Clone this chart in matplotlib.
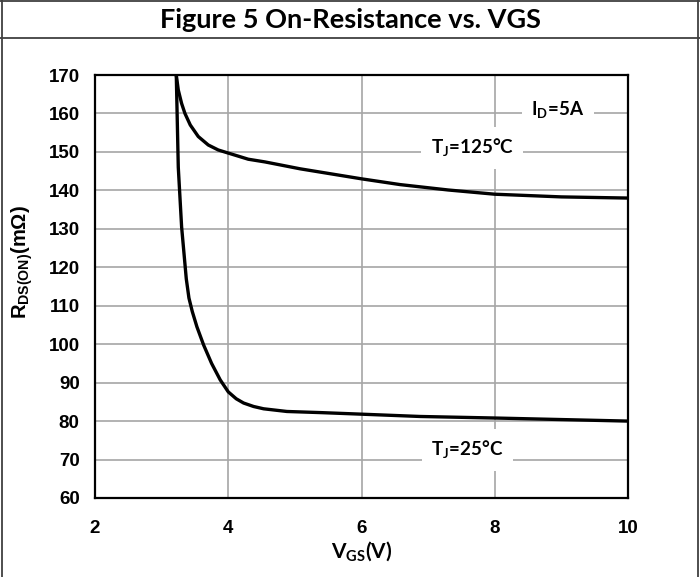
import matplotlib
matplotlib.use('Agg')
import matplotlib.pyplot as plt
from matplotlib.lines import Line2D

# data
vgs_25 = [3.22, 3.25, 3.30, 3.37, 3.41, 3.46, 3.53, 3.63, 3.75, 3.88, 4.0, 4.12, 4.23, 4.38,
          4.53, 4.88, 5.4, 6.0, 6.88, 8.0, 9.0, 10.0]
rds_25 = [170, 146, 130.5, 117, 112, 108.5, 104.5, 99.8, 95.0, 90.7, 87.6, 85.8, 84.7, 83.8,
          83.2, 82.5, 82.2, 81.8, 81.2, 80.8, 80.4, 80.0]

vgs_125 = [3.22, 3.25, 3.30, 3.35, 3.43, 3.55, 3.70, 3.85, 4.0, 4.30, 4.55, 5.08, 6.0, 6.58,
           7.3, 8.0, 9.0, 10.0]
rds_125 = [170, 166.1, 162.6, 160, 157, 154, 151.8, 150.5, 149.7, 148.1, 147.4, 145.6, 143,
           141.5, 140.1, 139.0, 138.3, 138.0]

x_ticks = [2, 4, 6, 8, 10]
y_ticks = [60, 70, 80, 90, 100, 110, 120, 130, 140, 150, 160, 170]

title_font = 'Lato'
tick_font = 'Liberation Sans'

fig = plt.figure(figsize=(7, 5.77), dpi=100)
ax = fig.add_axes([95/700, 1-498/577, (628-95)/700, (498-75)/577])

for xs, ys in [(vgs_125, rds_125), (vgs_25, rds_25)]:
    ax.plot(xs, ys, color='black', lw=2.4, solid_joinstyle='round',
            solid_capstyle='butt', zorder=3)

ax.set_xlim(2, 10)
ax.set_ylim(60, 170)
ax.set_xticks(x_ticks)
ax.set_yticks(y_ticks)
ax.grid(True, color='#a6a6a6', lw=1.2)
ax.set_axisbelow(True)
ax.tick_params(length=0, labelsize=13.5)
ax.tick_params(axis='y', pad=11)
ax.tick_params(axis='x', pad=16)
for lab in ax.get_xticklabels() + ax.get_yticklabels():
    lab.set_fontfamily(tick_font)
    lab.set_fontweight('bold')
for s in ax.spines.values():
    s.set_linewidth(1.6)
    s.set_color('black')

# annotations with white box over the grid
box = dict(facecolor='white', edgecolor='none', pad=7)
notes = [(8.95, 160.9, r'I$_\mathregular{D}$=5A'),
         (7.66, 151.0, r'T$_\mathregular{J}$=125°C'),
         (7.59, 72.5, r'T$_\mathregular{J}$=25°C')]
for nx, ny, txt in notes:
    ax.text(nx, ny, txt, ha='center', va='center', fontfamily=title_font,
            fontweight='bold', fontsize=13.5, bbox=box, zorder=4)

# axis labels
fig.text(362/700, 1-552/577, r'V$_\mathregular{GS}$(V)', ha='center', va='center',
         fontfamily=title_font, fontweight='bold', fontsize=15)
fig.text(22/700, 1-262/577, r'R$_\mathregular{DS(ON)}$(m$\mathregular{\Omega}$)',
         ha='center', va='center', rotation=90, fontfamily=tick_font,
         fontweight='bold', fontsize=14.5)

# title band and frame
fig.text(350/700, 1-20/577, 'Figure 5 On-Resistance vs. VGS', ha='center', va='center',
         fontfamily=title_font, fontweight='bold', fontsize=19.5)
for xs, ys in [([2/700, 2/700], [0, 1]), ([698/700, 698/700], [0, 1]),
               ([0, 1], [1-1/577, 1-1/577]), ([0, 1], [1-38/577, 1-38/577])]:
    fig.add_artist(Line2D(xs, ys, color='#404040', lw=1.3))

fig.savefig('out.png', dpi=100)
